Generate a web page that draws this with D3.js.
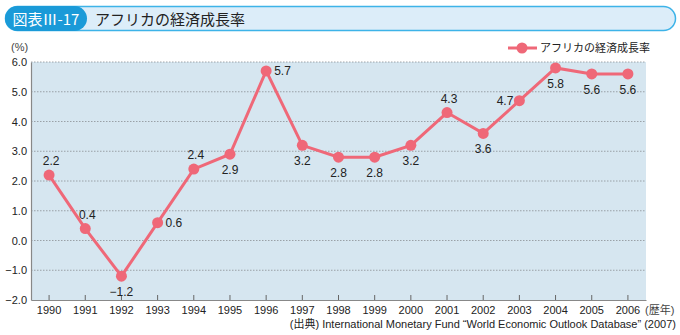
<!DOCTYPE html>
<html><head><meta charset="utf-8">
<script src="https://cdn.jsdelivr.net/npm/d3@7"></script>
<style>body{margin:0;background:#fff;} svg{display:block;}</style>
</head><body><svg id="c" width="680" height="335"></svg>
<script>
const years = ["1990","1991","1992","1993","1994","1995","1996","1997","1998","1999","2000","2001","2002","2003","2004","2005","2006"];
const growth = [2.2,0.4,-1.2,0.6,2.4,2.9,5.7,3.2,2.8,2.8,3.2,4.3,3.6,4.7,5.8,5.6,5.6];
const labelPos = ["above","above","below","right","above","below","right","below","below","below","below","above","below","left","below","below","below"];
const yTicks = [6,5,4,3,2,1,0,-1,-2];
const seriesName = "アフリカの経済成長率";
const titleTag = "図表Ⅲ-17";
const titleText = "アフリカの経済成長率";
const sourceText = "(出典) International Monetary Fund \u201CWorld Economic Outlook Database\u201D (2007)";
const xUnit = "(歴年)";

const JP = "'Noto Sans CJK JP', sans-serif";
const LS = "'Liberation Sans', 'Noto Sans CJK JP', sans-serif";
const svg = d3.select("#c");
const red = "#ef6878";
// title bar
svg.append("rect").attr("x",5.5).attr("y",6.5).attr("width",670).attr("height",24).attr("rx",12)
  .attr("fill","#dcedf9").attr("stroke","#3db3e8").attr("stroke-width",1.5);
svg.append("rect").attr("x",5).attr("y",6).attr("width",82).attr("height",25).attr("rx",12.5).attr("fill","#1a9ad8");
svg.append("text").attr("x",46).attr("y",24.5).attr("text-anchor","middle").attr("fill","#fff")
  .style("font-family",JP).attr("font-size",15).text(titleTag);
svg.append("text").attr("x",95).attr("y",24.5).attr("fill","#222").style("font-family",JP).attr("font-size",15).text(titleText);

const L=31, R=646, T=62, B=300;
const x = d3.scaleBand().domain(years).range([L,R]);
const y = d3.scaleLinear().domain([-2,6]).range([B,T]);
const cx = d => x(d)+x.bandwidth()/2;

svg.append("rect").attr("x",L).attr("y",T).attr("width",R-L).attr("height",B-T).attr("fill","#d6e6f0");
svg.selectAll(".grid").data(yTicks.filter(d=>d>-2)).enter().append("line")
  .attr("x1",L).attr("x2",R).attr("y1",d=>y(d)).attr("y2",d=>y(d))
  .attr("stroke","#8a8f94").attr("stroke-width",0.8).attr("stroke-dasharray","1.5,1.5");

// axes
const ya = svg.append("g").attr("transform",`translate(${L},0)`)
  .call(d3.axisLeft(y).tickValues(yTicks).tickSize(0).tickPadding(4).tickFormat(d=>d<0?"\u2212"+Math.abs(d).toFixed(1):d.toFixed(1)));
ya.select(".domain").attr("stroke","#888").attr("stroke-width",1.2);
ya.selectAll("text").style("font-size","11px").attr("fill","#222").style("font-family",LS);
const xa = svg.append("g").attr("transform",`translate(0,${B})`)
  .call(d3.axisBottom(x).tickSize(5).tickSizeOuter(0).tickPadding(1));
xa.select(".domain").attr("stroke","#888").attr("stroke-width",1.2);
xa.selectAll(".tick line").attr("stroke","#666").attr("transform","translate(0,-5)");
xa.selectAll("text").style("font-size","11px").attr("fill","#222").style("font-family",LS);

svg.append("text").attr("x",11).attr("y",51).style("font-size","11px").style("font-family",LS).attr("fill","#444").text("(%)");
svg.append("text").attr("x",645).attr("y",314).style("font-size","11px").style("font-family",LS).attr("fill","#444").text(xUnit);
svg.append("text").attr("x",676).attr("y",328).attr("text-anchor","end").style("font-size","11px").style("font-family",LS).attr("fill","#222")
  .text(sourceText);

// line
const data = years.map((yr,i)=>({yr,v:growth[i],p:labelPos[i]}));
svg.append("path").datum(data).attr("fill","none").attr("stroke",red).attr("stroke-width",3)
  .attr("d",d3.line().x(d=>cx(d.yr)).y(d=>y(d.v)));
svg.selectAll(".dot").data(data).enter().append("circle")
  .attr("cx",d=>cx(d.yr)).attr("cy",d=>y(d.v)).attr("r",5.5).attr("fill",red);
svg.selectAll(".lab").data(data).enter().append("text")
  .style("font-size","12px").attr("fill","#222").style("font-family",LS)
  .attr("text-anchor",d=>d.p==="right"?"start":d.p==="left"?"end":"middle")
  .attr("x",d=>cx(d.yr)+(d.p==="right"?8:d.p==="left"?-6:(d.p==="above"?2:0)))
  .attr("y",d=>y(d.v)+(d.p==="above"?-10:d.p==="below"?20:4))
  .text(d=>d.v<0?"\u2212"+Math.abs(d.v).toFixed(1):d.v.toFixed(1));

// legend
svg.append("line").attr("x1",508).attr("x2",537).attr("y1",48).attr("y2",48).attr("stroke",red).attr("stroke-width",3);
svg.append("circle").attr("cx",522).attr("cy",48).attr("r",5.5).attr("fill",red);
svg.append("text").attr("x",540).attr("y",52).style("font-size","11px").style("font-family",JP).attr("fill","#222").text(seriesName);
</script></body></html>
